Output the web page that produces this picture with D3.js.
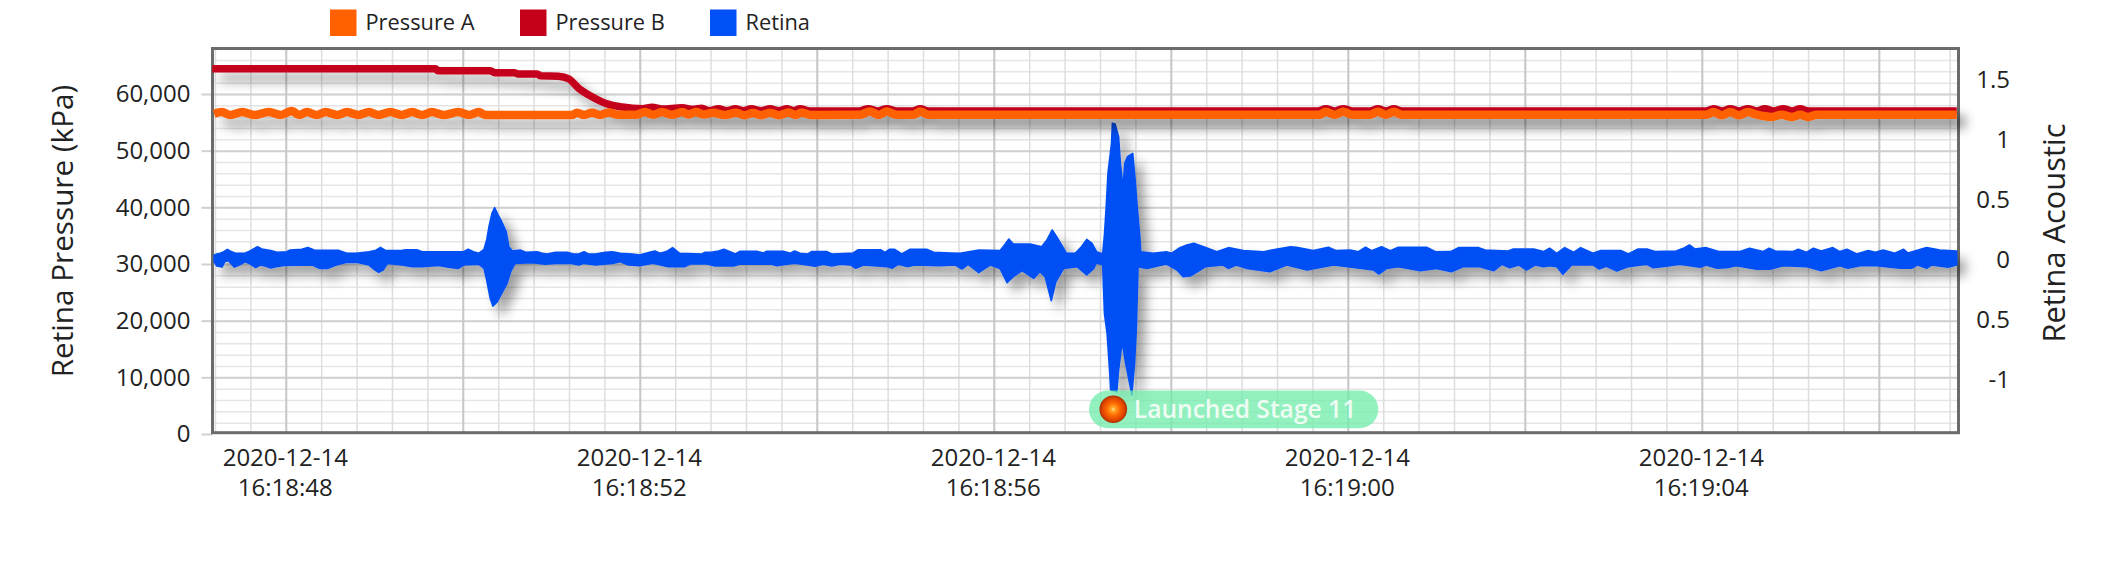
<!DOCTYPE html>
<html><head><meta charset="utf-8">
<script src="https://cdn.jsdelivr.net/npm/d3@7/dist/d3.min.js"></script>
<style>html,body{margin:0;background:#fff}svg{display:block}text{font-family:"Open Sans",sans-serif;fill:#222}</style>
</head><body><svg id="c" width="2120" height="574"></svg>
<script>
// values: seconds after 16:18:48, then reading
const seriesNames = ["Pressure A","Pressure B","Retina"];
const seriesColors = ["#ff6000","#c4001a","#0050f5"];
const pressureBTimes = [-0.83,1.69,1.72,2.31,2.36,2.58,2.62,2.84,2.88,3.08,3.20,3.31,3.46,3.61,3.80,4.03,4.14,4.25,4.48,4.6,4.70,4.78,4.89,4.98,5.08,5.17,5.26,5.37,5.47,5.57,5.66,5.74,5.81,5.92,6.48,6.58,6.69,6.79,6.90,7.08,7.17,7.26,11.66,11.75,11.85,11.95,12.05,12.25,12.34,12.43,12.52,12.61,16.05,16.13,16.23,16.32,16.42,16.52,16.62,16.71,16.81,16.92,17.02,17.11,17.2,18.88];
const pressureBValues = [64460,64460,64100,64100,63760,63760,63530,63530,63220,63150,62650,61000,59500,58350,57700,57400,57650,57350,57550,57300,57500,57050,57400,57050,57400,57050,57400,57050,57400,57050,57400,57050,57400,57000,57000,57400,57000,57400,57000,57000,57400,57000,57000,57400,57000,57400,57000,57000,57400,57000,57400,57000,57000,57400,57000,57400,57000,57400,57000,57400,57000,57400,57000,57400,57000,57000];
const pressureATimes = [-0.81,-0.72,-0.63,-0.49,-0.36,-0.19,-0.06,0.07,0.15,0.24,0.35,0.45,0.58,0.69,0.82,0.94,1.05,1.18,1.31,1.43,1.54,1.65,1.78,1.95,2.07,2.18,2.26,3.235,3.29,3.37,3.46,3.55,3.65,3.75,3.95,4.06,4.15,4.25,4.36,4.48,4.55,4.63,4.72,4.83,4.96,5.09,5.18,5.28,5.37,5.47,5.57,5.68,5.76,5.83,5.93,6.49,6.60,6.70,6.79,6.90,7.09,7.17,7.26,11.68,11.75,11.85,11.95,12.05,12.25,12.34,12.43,12.52,12.61,16.05,16.13,16.23,16.32,16.42,16.52,16.62,16.79,16.9,17.02,17.11,17.2,17.3,18.88];
const pressureAValues = [56500,56800,56300,56800,56300,56800,56300,57000,56300,56800,56300,56800,56300,56800,56300,56800,56300,56800,56300,56800,56300,56800,56300,56800,56300,56800,56290,56290,56700,56300,56700,56300,56750,56350,56320,56800,56350,56800,56350,56800,56400,56800,56400,56700,56300,56700,56250,56650,56250,56700,56250,56750,56300,56750,56300,56340,56900,56300,56900,56340,56340,56900,56340,56340,56850,56340,56850,56340,56340,56850,56340,56850,56340,56340,56800,56250,56800,56250,56800,56340,55950,56340,55950,56340,55950,56340,56340];
const retinaUpper = [[-0.81,.04],[-0.78,.05],[-0.74,.056],[-0.70,.069],[-0.66,.089],[-0.63,.075],[-0.57,.056],[-0.46,.056],[-0.40,.078],[-0.32,.111],[-0.27,.092],[-0.17,.078],[-0.10,.064],[0.01,.069],[0.05,.083],[0.18,.089],[0.25,.105],[0.32,.083],[0.60,.08],[0.69,.056],[0.79,.056],[0.94,.069],[1.01,.078],[1.07,.105],[1.13,.078],[1.31,.078],[1.35,.086],[1.48,.086],[1.54,.069],[2.01,.069],[2.06,.089],[2.12,.069],[2.18,.056],[2.24,.089],[2.27,.167],[2.30,.292],[2.33,.389],[2.36,.436],[2.40,.375],[2.44,.319],[2.49,.236],[2.52,.111],[2.56,.075],[2.65,.083],[2.71,.064],[2.84,.069],[2.90,.056],[2.95,.05],[3.05,.064],[3.18,.064],[3.25,.05],[3.31,.05],[3.37,.069],[3.42,.05],[3.50,.05],[3.61,.064],[3.69,.069],[3.78,.056],[3.91,.05],[4.00,.042],[4.11,.064],[4.17,.075],[4.23,.056],[4.30,.07],[4.37,.103],[4.45,.056],[4.70,.05],[4.74,.064],[4.81,.064],[4.89,.075],[4.95,.089],[5.00,.075],[5.08,.05],[5.13,.072],[5.32,.072],[5.40,.058],[5.43,.072],[5.62,.072],[5.70,.056],[5.75,.075],[5.81,.056],[5.90,.05],[5.94,.07],[6.11,.07],[6.17,.05],[6.41,.058],[6.47,.086],[6.72,.086],[6.77,.064],[6.82,.089],[6.88,.089],[6.96,.05],[7.05,.089],[7.24,.089],[7.32,.064],[7.51,.058],[7.62,.055],[7.83,.083],[8.07,.078],[8.13,.133],[8.17,.175],[8.22,.133],[8.32,.133],[8.41,.133],[8.54,.111],[8.60,.167],[8.66,.25],[8.71,.194],[8.82,.056],[8.92,.056],[8.99,.111],[9.05,.172],[9.11,.139],[9.16,.069],[9.23,.05],[9.25,.208],[9.27,.444],[9.29,.722],[9.33,.972],[9.34,1.139],[9.37,1.133],[9.41,1.028],[9.43,.806],[9.46,.597],[9.48,.806],[9.51,.861],[9.57,.889],[9.60,.639],[9.62,.444],[9.65,.194],[9.66,.069],[9.80,.056],[9.95,.069],[10.01,.056],[10.09,.097],[10.18,.125],[10.26,.139],[10.37,.111],[10.52,.069],[10.65,.103],[10.82,.078],[11.05,.069],[11.14,.083],[11.35,.111],[11.42,.106],[11.61,.078],[11.78,.106],[11.87,.078],[12.03,.083],[12.12,.069],[12.2,.106],[12.27,.078],[12.38,.111],[12.48,.078],[12.57,.106],[12.89,.106],[12.99,.069],[13.16,.07],[13.25,.103],[13.48,.103],[13.55,.083],[13.81,.075],[13.87,.092],[14.10,.092],[14.21,.07],[14.28,.098],[14.36,.056],[14.45,.103],[14.55,.064],[14.63,.103],[14.77,.056],[14.85,.078],[15.09,.078],[15.17,.05],[15.28,.092],[15.38,.092],[15.47,.07],[15.71,.075],[15.79,.097],[15.86,.125],[15.92,.092],[16.05,.103],[16.19,.07],[16.43,.07],[16.54,.098],[16.69,.07],[16.76,.098],[16.83,.075],[17.03,.07],[17.09,.089],[17.18,.064],[17.26,.098],[17.35,.075],[17.48,.103],[17.56,.07],[17.64,.089],[17.75,.05],[17.88,.078],[17.96,.064],[18.05,.083],[18.18,.056],[18.28,.089],[18.33,.058],[18.54,.103],[18.69,.083],[18.88,.075]];
const retinaLower = [[-0.81,-.014],[-0.78,-.05],[-0.72,-.059],[-0.69,-.014],[-0.65,-.006],[-0.62,-.028],[-0.58,-.059],[-0.52,-.039],[-0.46,-.014],[-0.40,-.034],[-0.34,-.064],[-0.29,-.042],[-0.23,-.05],[-0.17,-.067],[-0.11,-.056],[-0.02,-.045],[0.30,-.042],[0.38,-.07],[0.47,-.07],[0.57,-.042],[0.68,-.02],[0.81,-.02],[0.94,-.042],[1.01,-.084],[1.05,-.103],[1.10,-.084],[1.15,-.028],[1.31,-.042],[1.43,-.056],[1.54,-.056],[1.73,-.045],[1.84,-.061],[1.95,-.07],[2.01,-.042],[2.18,-.034],[2.24,-.07],[2.27,-.167],[2.31,-.32],[2.34,-.384],[2.39,-.347],[2.44,-.278],[2.50,-.195],[2.54,-.098],[2.59,-.028],[2.78,-.023],[2.93,-.034],[3.05,-.028],[3.23,-.028],[3.31,-.042],[3.37,-.028],[3.50,-.042],[3.69,-.028],[3.78,-.014],[3.87,-.042],[4.00,-.047],[4.15,-.027],[4.32,-.055],[4.51,-.055],[4.57,-.033],[4.76,-.033],[4.85,-.05],[5.06,-.05],[5.13,-.036],[5.49,-.036],[5.55,-.047],[5.60,-.041],[5.75,-.027],[5.89,-.041],[5.98,-.052],[6.07,-.036],[6.17,-.05],[6.26,-.036],[6.38,-.041],[6.44,-.069],[6.53,-.041],[6.79,-.055],[6.85,-.069],[6.92,-.036],[7.02,-.055],[7.11,-.041],[7.39,-.047],[7.56,-.041],[7.64,-.075],[7.71,-.036],[7.83,-.105],[7.90,-.069],[7.96,-.042],[8.07,-.07],[8.15,-.189],[8.22,-.139],[8.32,-.089],[8.45,-.153],[8.52,-.097],[8.58,-.139],[8.65,-.339],[8.70,-.181],[8.79,-.07],[8.94,-.056],[9.05,-.125],[9.13,-.07],[9.16,-.022],[9.23,-.042],[9.25,-.444],[9.28,-.611],[9.31,-.944],[9.32,-1.083],[9.39,-1.097],[9.41,-.917],[9.45,-.681],[9.49,-.861],[9.56,-1.125],[9.59,-.861],[9.61,-.583],[9.63,-.056],[9.73,-.07],[9.95,-.033],[10.07,-.083],[10.14,-.139],[10.22,-.133],[10.39,-.056],[10.59,-.042],[10.65,-.07],[10.74,-.042],[10.86,-.07],[11.12,-.097],[11.31,-.042],[11.54,-.083],[11.84,-.042],[12.29,-.083],[12.35,-.117],[12.44,-.07],[12.57,-.056],[12.82,-.089],[13.0,-.07],[13.17,-.097],[13.31,-.055],[13.48,-.055],[13.65,-.089],[13.74,-.036],[13.83,-.064],[13.93,-.041],[14.02,-.083],[14.12,-.041],[14.21,-.055],[14.28,-.047],[14.36,-.055],[14.43,-.119],[14.53,-.041],[14.77,-.041],[14.84,-.075],[14.92,-.052],[15.04,-.091],[15.17,-.055],[15.38,-.036],[15.45,-.064],[15.62,-.05],[15.75,-.036],[15.98,-.061],[16.05,-.041],[16.17,-.069],[16.28,-.064],[16.39,-.047],[16.62,-.077],[16.77,-.077],[16.92,-.047],[17.18,-.055],[17.35,-.089],[17.56,-.047],[17.65,-.069],[17.79,-.047],[17.97,-.047],[18.24,-.069],[18.37,-.069],[18.44,-.041],[18.54,-.069],[18.6,-.041],[18.78,-.061],[18.88,-.041]];
const leftTicks = [0,10000,20000,30000,40000,50000,60000];
const rightTicks = [-1,-0.5,0,0.5,1,1.5];
const rightTickLabels = ["-1","0.5","0","0.5","1","1.5"];
const timeTickSeconds = [0,4,8,12,16];
const annotationSecond = 9.35, annotationValue = -1.244, annotationText = "Launched Stage 11";

const base = Date.UTC(2020,11,14,16,18,48);
const toDate = s => new Date(base + s*1000);
const L=212.5,R=1958.5,T=48.5,B=432.7;
const x = d3.scaleUtc().domain([toDate(-0.8271),toDate(18.9)]).range([L,R]);
const yL = d3.scaleLinear().domain([0,68027]).range([434,T]);
const yR = d3.scaleLinear().domain([-1.45,1.7625]).range([434,T]);
const svg = d3.select("#c");
const defs = svg.append("defs");
const sh = defs.append("filter").attr("id","sh").attr("filterUnits","userSpaceOnUse")
  .attr("x",0).attr("y",0).attr("width",2120).attr("height",574);
sh.append("feDropShadow").attr("dx",8).attr("dy",9).attr("stdDeviation",6).attr("flood-color","#000").attr("flood-opacity",.38);
defs.append("clipPath").attr("id","pc").append("rect").attr("x",L).attr("y",T).attr("width",R-L).attr("height",B-T);
const g = defs.append("radialGradient").attr("id","ball");
[[0,"#ffe9b0"],[.12,"#ffb030"],[.45,"#ff6a00"],[.8,"#e04400"],[1,"#a83000"]].forEach(s=>g.append("stop").attr("offset",s[0]).attr("stop-color",s[1]));

// grid
const grid = svg.append("g").attr("clip-path","url(#pc)");
const gridStyle=(sel,c,w)=>{sel.select(".domain").remove();sel.selectAll("line").attr("stroke",c).attr("stroke-width",w);};
grid.append("g").attr("transform",`translate(${L},0)`)
  .call(d3.axisLeft(yL).tickValues(d3.range(0,68001,2000)).tickSize(-(R-L)).tickFormat(""))
  .call(gridStyle,"#e5e5e5",1.5);
grid.append("g").attr("transform",`translate(0,${B})`)
  .call(d3.axisBottom(x).tickValues(d3.range(-0.8,19,0.4).map(toDate)).tickSize(-(B-T)).tickFormat(""))
  .call(gridStyle,"#dedede",1.5);
grid.append("g").attr("transform",`translate(${L},0)`)
  .call(d3.axisLeft(yL).tickValues(leftTicks).tickSize(-(R-L)).tickFormat(""))
  .call(gridStyle,"#d0d0d0",2);
grid.append("g").attr("transform",`translate(0,${B})`)
  .call(d3.axisBottom(x).tickValues(d3.range(0,19,2).map(toDate)).tickSize(-(B-T)).tickFormat(""))
  .call(gridStyle,"#c8c8c8",2);

// axes
const aL = svg.append("g").attr("transform",`translate(${L},0)`)
  .call(d3.axisLeft(yL).tickValues(leftTicks).tickSize(11).tickPadding(11).tickFormat(d3.format(",")));
aL.select(".domain").remove(); aL.selectAll("line").attr("stroke","#d0d0d0").attr("stroke-width",2);
aL.selectAll("text").attr("font-size",24).attr("font-family",null);
const aR = svg.append("g").attr("transform",`translate(${R},0)`)
  .call(d3.axisRight(yR).tickValues(rightTicks).tickSize(0).tickFormat((d,i)=>rightTickLabels[i]));
aR.select(".domain").remove();
aR.selectAll("text").attr("font-size",24).attr("font-family",null).attr("text-anchor","end").attr("x",2010-R);
const aB = svg.append("g").attr("transform",`translate(0,${B})`)
  .call(d3.axisBottom(x).tickValues(timeTickSeconds.map(toDate)).tickSize(0));
aB.select(".domain").remove();
aB.selectAll("text").attr("font-size",24).attr("font-family",null).each(function(d){
  const t=d3.select(this).text(null).attr("y",null).attr("dy",null);
  t.append("tspan").attr("x",-1).attr("y",33).text(d3.utcFormat("%Y-%m-%d")(d));
  t.append("tspan").attr("x",-1).attr("y",63).text(d3.utcFormat("%H:%M:%S")(d));
});
svg.append("text").attr("transform","translate(73,231) rotate(-90)").attr("text-anchor","middle").attr("font-size",29.7).text("Retina Pressure (kPa)");
svg.append("text").attr("transform","translate(2065,233) rotate(-90)").attr("text-anchor","middle").attr("font-size",30.8).text("Retina Acoustic");

// frame
svg.append("rect").attr("x",L).attr("y",T).attr("width",R-L).attr("height",B-T).attr("fill","none").attr("stroke","#6b6b6b").attr("stroke-width",3);

// series
const pLine = d3.line().x(d=>x(toDate(d[0]))).y(d=>yL(d[1])).curve(d3.curveMonotoneX);
const drawP=(ts,vs,c,w)=>svg.append("path").datum(ts.map((t,i)=>[t,vs[i]])).attr("d",pLine).attr("fill","none")
  .attr("stroke",c).attr("stroke-width",w).attr("stroke-linejoin","round").attr("filter","url(#sh)");
const rPts = d=>[x(toDate(d[0])),yR(d[1])];
const outline = retinaUpper.concat(retinaLower.slice().reverse()).map(rPts);
svg.append("path").attr("d",d3.line()(outline)+"Z").attr("fill",seriesColors[2]).attr("stroke",seriesColors[2]).attr("stroke-width",1.6).attr("stroke-linejoin","round").attr("filter","url(#sh)");
drawP(pressureBTimes,pressureBValues,seriesColors[1],7.5);
drawP(pressureATimes,pressureAValues,seriesColors[0],8.5);

// annotation
const ax=x(toDate(annotationSecond)), ay=yR(annotationValue);
svg.append("rect").attr("x",ax-24.3).attr("y",ay-18.7).attr("width",289.3).attr("height",37.6).attr("rx",18.8)
  .attr("fill","#6fecaa").attr("fill-opacity",.75);
svg.append("circle").attr("cx",ax).attr("cy",ay).attr("r",13.8).attr("fill","url(#ball)");
svg.append("text").attr("x",ax+20.5).attr("y",ay+8.5).attr("font-size",24.6).attr("font-weight",600).style("fill","#eefcf3").text(annotationText);

// legend
const legX=d3.scalePoint().domain(seriesNames).range([330,710]);
const leg=svg.append("g").selectAll("g").data(seriesNames).join("g").attr("transform",d=>`translate(${legX(d)},9.5)`);
leg.append("rect").attr("width",26.5).attr("height",26.5).attr("fill",(d,i)=>seriesColors[i]);
leg.append("text").attr("x",35.5).attr("y",20).attr("font-size",21.8).text(d=>d);
</script></body></html>
